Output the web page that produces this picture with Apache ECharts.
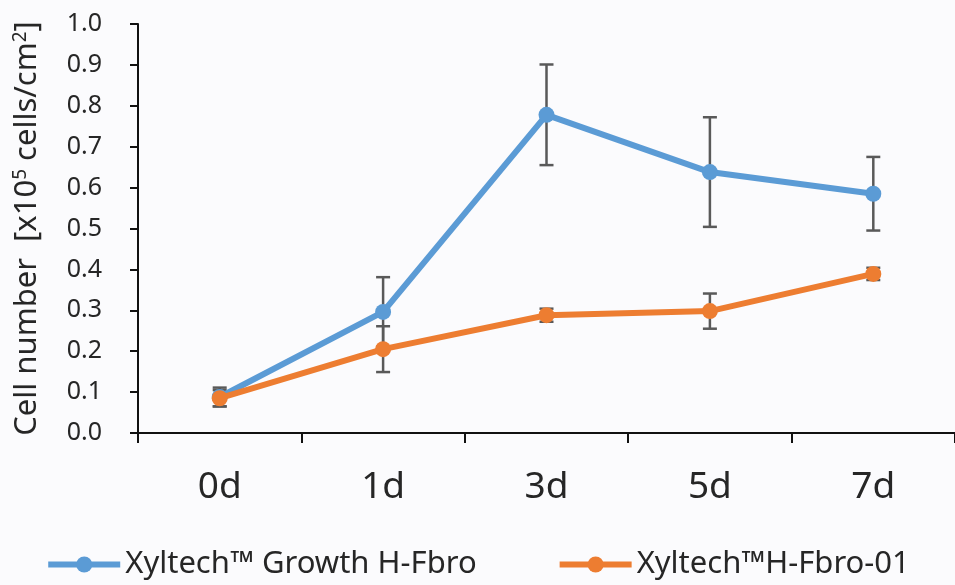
<!DOCTYPE html>
<html><head><meta charset="utf-8">
<script src="https://cdn.jsdelivr.net/npm/echarts@6/dist/echarts.min.js"></script>
<style>html,body{margin:0;padding:0;background:#fbfbfd}#c{width:955px;height:585px}</style>
</head><body><div id="c"></div>
<script>
const categories = ['0d','1d','3d','5d','7d'];
const seriesNames = ['Xyltech™ Growth H-Fbro','Xyltech™H-Fbro-01'];
const growthValues = [0.088, 0.296, 0.778, 0.638, 0.585];
const growthErrors = [0.023, 0.085, 0.123, 0.134, 0.090];
const fbroValues = [0.085, 0.205, 0.288, 0.298, 0.389];
const fbroErrors = [0.020, 0.056, 0.016, 0.043, 0.015];
const yTicks = [0,0.1,0.2,0.3,0.4,0.5,0.6,0.7,0.8,0.9,1.0];

const FONT = '"Noto Sans", "Open Sans", sans-serif';
const TXT = '#262626';
function errData(vals, errs){ return vals.map((v,i)=>[i, v-errs[i], v+errs[i]]); }
function errRender(params, api){
  const x = api.value(0);
  const lo = api.coord([x, api.value(1)]);
  const hi = api.coord([x, api.value(2)]);
  const w = 7;
  const st = {stroke:'#595959', lineWidth:2.5};
  return {type:'group', children:[
    {type:'line', shape:{x1:hi[0],y1:hi[1],x2:lo[0],y2:lo[1]}, style:st},
    {type:'line', shape:{x1:hi[0]-w,y1:hi[1],x2:hi[0]+w,y2:hi[1]}, style:st},
    {type:'line', shape:{x1:lo[0]-w,y1:lo[1],x2:lo[0]+w,y2:lo[1]}, style:st}
  ]};
}
const chart = echarts.init(document.getElementById('c'));
chart.setOption({
  backgroundColor:'#fbfbfd',
  animation:false,
  textStyle:{fontFamily:FONT},
  grid:{left:138, right:0, top:24, bottom:152},
  legend:{
    bottom:0, left:'center', itemGap:80, itemWidth:72, itemHeight:20,
    lineStyle:{width:6},
    textStyle:{fontSize:31, color:TXT, fontFamily:FONT},
    data:seriesNames
  },
  xAxis:{
    type:'category', data:categories, boundaryGap:true,
    axisLine:{lineStyle:{color:'#111', width:2}},
    axisTick:{show:true, length:10, lineStyle:{color:'#111', width:2}},
    axisLabel:{fontSize:37, color:TXT, margin:36, fontFamily:FONT}
  },
  yAxis:{
    type:'value', min:0, max:1, interval:0.1,
    name:'{a|Cell number  [x10}{s|5}{a| cells/cm}{s|2}{a|]}',
    nameLocation:'middle', nameGap:94, nameRotate:90,
    nameTextStyle:{rich:{
      a:{fontSize:31, color:TXT, fontFamily:FONT},
      s:{fontSize:19, color:TXT, fontFamily:FONT, verticalAlign:'top', padding:[0,0,14,0]}
    }},
    axisLine:{show:true, lineStyle:{color:'#111', width:2}},
    axisTick:{show:true, length:8, lineStyle:{color:'#111', width:2}},
    splitLine:{show:false},
    axisLabel:{fontSize:25, color:TXT, margin:36, fontFamily:FONT,
      formatter:v=>yTicks.includes(Math.round(v*10)/10)?v.toFixed(1):''}
  },
  series:[
    {type:'custom', name:'errG', renderItem:errRender, data:errData(growthValues,growthErrors), z:1, encode:{x:0,y:[1,2]}},
    {type:'custom', name:'errF', renderItem:errRender, data:errData(fbroValues,fbroErrors), z:1, encode:{x:0,y:[1,2]}},
    {type:'line', name:seriesNames[0], data:growthValues, z:3, symbol:'circle', symbolSize:16,
      itemStyle:{color:'#5b9bd5'}, lineStyle:{color:'#5b9bd5', width:6}},
    {type:'line', name:seriesNames[1], data:fbroValues, z:4, symbol:'circle', symbolSize:16,
      itemStyle:{color:'#ed7d31'}, lineStyle:{color:'#ed7d31', width:6}}
  ]
});
</script></body></html>
